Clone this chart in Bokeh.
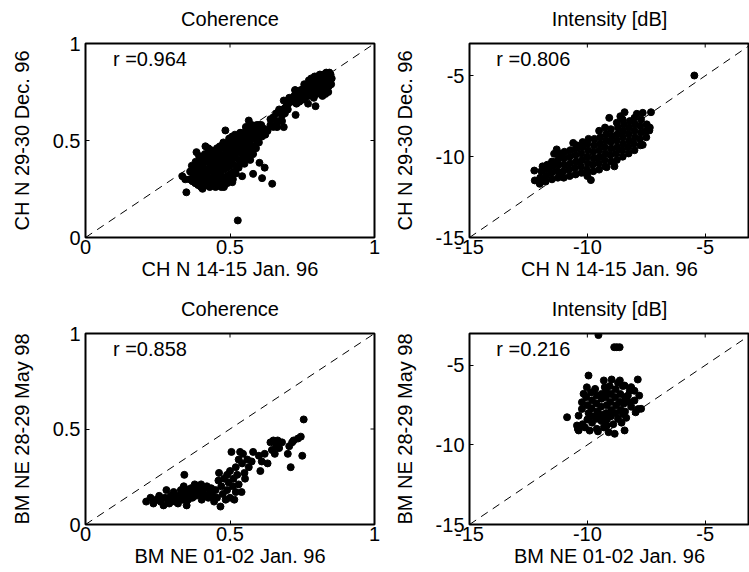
import math
from bokeh.plotting import figure
from bokeh.layouts import gridplot
from bokeh.models import Range1d, FixedTicker, LinearAxis, Label
from bokeh.embed import file_html
from bokeh.resources import INLINE

# ------------------------------------------------------------------ data
coh_limits = [0, 1]
int_limits = [-15, -3]
coh_ticks = [0, 0.5, 1]
coh_tick_labels = ["0", "0.5", "1"]
int_ticks = [-15, -10, -5]
int_tick_labels = ["-15", "-10", "-5"]
panel_titles = ["Coherence", "Intensity [dB]"]
ch_xlabel = "CH N 14-15 Jan. 96"
ch_ylabel = "CH N 29-30 Dec. 96"
bm_xlabel = "BM NE 01-02 Jan. 96"
bm_ylabel = "BM NE 28-29 May 98"
r_values = [0.964, 0.806, 0.858, 0.216]

# CH N coherence (x = 14-15 Jan 96, y = 29-30 Dec 96)
ch_coh = [
    (0.335, 0.316), (0.345, 0.30), (0.349, 0.233),
    (0.36, 0.30), (0.362, 0.34), (0.37, 0.29), (0.372, 0.33), (0.368, 0.37),
    (0.38, 0.28), (0.383, 0.31), (0.378, 0.35), (0.381, 0.39), (0.384, 0.44),
    (0.39, 0.27), (0.392, 0.30), (0.388, 0.34), (0.391, 0.38), (0.393, 0.42),
    (0.40, 0.26), (0.402, 0.29), (0.398, 0.33), (0.401, 0.37), (0.403, 0.41), (0.405, 0.251),
    (0.41, 0.28), (0.412, 0.32), (0.408, 0.36), (0.411, 0.40), (0.413, 0.43), (0.415, 0.47),
    (0.42, 0.27), (0.422, 0.31), (0.418, 0.35), (0.421, 0.39), (0.423, 0.42), (0.425, 0.46),
    (0.43, 0.26), (0.432, 0.30), (0.428, 0.34), (0.431, 0.38), (0.433, 0.41), (0.435, 0.45),
    (0.44, 0.27), (0.442, 0.31), (0.438, 0.35), (0.441, 0.39), (0.443, 0.43), (0.444, 0.268),
    (0.45, 0.26), (0.452, 0.30), (0.448, 0.34), (0.451, 0.38), (0.453, 0.42), (0.455, 0.46),
    (0.46, 0.27), (0.462, 0.31), (0.458, 0.35), (0.461, 0.39), (0.463, 0.43), (0.465, 0.47),
    (0.47, 0.26), (0.472, 0.30), (0.468, 0.34), (0.471, 0.38), (0.473, 0.42), (0.475, 0.46), (0.477, 0.49),
    (0.48, 0.27), (0.479, 0.26), (0.482, 0.31), (0.478, 0.35), (0.481, 0.39), (0.483, 0.43), (0.485, 0.47), (0.484, 0.552),
    (0.49, 0.28), (0.492, 0.32), (0.488, 0.36), (0.491, 0.40), (0.493, 0.44), (0.495, 0.48), (0.497, 0.51),
    (0.50, 0.29), (0.502, 0.33), (0.498, 0.37), (0.501, 0.41), (0.503, 0.45), (0.505, 0.49), (0.507, 0.52), (0.508, 0.285),
    (0.51, 0.30), (0.512, 0.34), (0.508, 0.38), (0.511, 0.42), (0.513, 0.46), (0.515, 0.50), (0.517, 0.53),
    (0.52, 0.33), (0.522, 0.37), (0.518, 0.41), (0.521, 0.45), (0.523, 0.49), (0.525, 0.52),
    (0.53, 0.36), (0.532, 0.40), (0.528, 0.44), (0.531, 0.48), (0.533, 0.51), (0.535, 0.54), (0.527, 0.088),
    (0.542, 0.316), (0.54, 0.39), (0.542, 0.43), (0.538, 0.47), (0.541, 0.50), (0.543, 0.54),
    (0.55, 0.38), (0.552, 0.42), (0.548, 0.46), (0.551, 0.50), (0.553, 0.53), (0.555, 0.57),
    (0.56, 0.41), (0.562, 0.45), (0.558, 0.49), (0.561, 0.52), (0.563, 0.56), (0.565, 0.603),
    (0.57, 0.40), (0.572, 0.44), (0.568, 0.48), (0.571, 0.52), (0.573, 0.55), (0.575, 0.58),
    (0.580, 0.328), (0.58, 0.43), (0.582, 0.47), (0.578, 0.51), (0.581, 0.54), (0.583, 0.57),
    (0.59, 0.46), (0.592, 0.50), (0.588, 0.53), (0.591, 0.56), (0.593, 0.58),
    (0.602, 0.385), (0.60, 0.49), (0.602, 0.52), (0.598, 0.55), (0.601, 0.58),
    (0.611, 0.306), (0.61, 0.52), (0.612, 0.55), (0.608, 0.58),
    (0.62, 0.36), (0.622, 0.53), (0.618, 0.56),
    (0.63, 0.55), (0.64, 0.58), (0.646, 0.277), (0.65, 0.57), (0.663, 0.569), (0.686, 0.569),
    (0.67, 0.60), (0.64, 0.61), (0.65, 0.62), (0.66, 0.64), (0.67, 0.66), (0.66, 0.60), (0.68, 0.60),
    (0.68, 0.63), (0.682, 0.66), (0.686, 0.706), (0.69, 0.64), (0.692, 0.67),
    (0.70, 0.66), (0.702, 0.69), (0.705, 0.72),
    (0.72, 0.70), (0.727, 0.632), (0.722, 0.73), (0.725, 0.76), (0.727, 0.758),
    (0.73, 0.69), (0.732, 0.72), (0.735, 0.75),
    (0.74, 0.70), (0.742, 0.73), (0.745, 0.76),
    (0.75, 0.71), (0.752, 0.74), (0.755, 0.77), (0.757, 0.79),
    (0.76, 0.72), (0.762, 0.75), (0.765, 0.78),
    (0.77, 0.69), (0.772, 0.73), (0.768, 0.76), (0.771, 0.79), (0.773, 0.81),
    (0.78, 0.74), (0.782, 0.77), (0.778, 0.80), (0.781, 0.82),
    (0.79, 0.72), (0.792, 0.75), (0.788, 0.78), (0.791, 0.81), (0.793, 0.83),
    (0.796, 0.677), (0.80, 0.74), (0.802, 0.77), (0.798, 0.80), (0.801, 0.83),
    (0.81, 0.75), (0.812, 0.78), (0.808, 0.81), (0.811, 0.84),
    (0.82, 0.73), (0.822, 0.76), (0.818, 0.79), (0.821, 0.82), (0.823, 0.84),
    (0.83, 0.74), (0.832, 0.77), (0.828, 0.80), (0.831, 0.83), (0.833, 0.85),
    (0.84, 0.75), (0.842, 0.78), (0.838, 0.81), (0.841, 0.84), (0.844, 0.85),
    (0.85, 0.79), (0.852, 0.82), (0.848, 0.84),
]

# CH N intensity [dB]
ch_int = [
    (-12.25, -10.86), (-12.23, -11.47), (-12.02, -11.68), (-12.0, -11.3), (-11.95, -10.9), (-11.9, -10.6),
    (-11.77, -11.54), (-11.75, -11.2), (-11.72, -10.8), (-11.7, -10.5),
    (-11.5, -11.4), (-11.52, -11.0), (-11.48, -10.6), (-11.5, -10.3), (-11.41, -9.82),
    (-11.25, -11.3), (-11.27, -10.9), (-11.23, -10.5), (-11.25, -10.2), (-11.2, -9.8),
    (-11.14, -11.17), (-11.0, -11.3), (-11.02, -10.9), (-10.98, -10.5), (-11.0, -10.1), (-10.97, -9.7),
    (-10.75, -11.2), (-10.77, -10.8), (-10.73, -10.4), (-10.75, -10.0), (-10.72, -9.6),
    (-10.5, -11.1), (-10.52, -10.7), (-10.48, -10.3), (-10.5, -9.9), (-10.47, -9.5), (-10.45, -9.3),
    (-10.25, -11.0), (-10.27, -10.6), (-10.23, -10.2), (-10.25, -9.8), (-10.22, -9.4), (-10.2, -9.1),
    (-10.02, -10.96), (-10.0, -11.2), (-10.02, -10.8), (-9.98, -10.4), (-10.0, -10.0), (-9.97, -9.6), (-10.0, -9.2), (-9.95, -8.9),
    (-9.75, -10.9), (-9.77, -10.5), (-9.73, -10.1), (-9.75, -9.7), (-9.72, -9.3), (-9.7, -8.9),
    (-9.5, -10.8), (-9.52, -10.4), (-9.48, -10.0), (-9.5, -9.6), (-9.47, -9.2), (-9.45, -8.8), (-9.5, -8.4),
    (-9.25, -10.6), (-9.27, -10.2), (-9.23, -9.8), (-9.25, -9.4), (-9.22, -9.0), (-9.2, -8.6), (-9.25, -8.2),
    (-9.18, -10.65), (-9.0, -10.3), (-9.02, -9.9), (-8.98, -9.5), (-9.0, -9.1), (-8.97, -8.7), (-9.0, -8.3), (-9.07, -7.6),
    (-8.75, -10.2), (-8.77, -9.8), (-8.73, -9.4), (-8.75, -9.0), (-8.72, -8.6), (-8.7, -8.2), (-8.75, -7.9),
    (-8.5, -10.0), (-8.52, -9.6), (-8.48, -9.2), (-8.5, -8.8), (-8.47, -8.4), (-8.45, -8.0), (-8.5, -7.7),
    (-8.42, -7.25), (-8.25, -9.8), (-8.27, -9.4), (-8.23, -9.0), (-8.25, -8.6), (-8.22, -8.2), (-8.2, -7.8),
    (-8.0, -9.6), (-8.02, -9.2), (-7.98, -8.8), (-8.0, -8.4), (-7.97, -8.0), (-8.0, -7.6),
    (-7.75, -9.3), (-7.77, -8.9), (-7.73, -8.5), (-7.75, -8.1), (-7.72, -7.7), (-7.65, -7.29),
    (-7.5, -8.8), (-7.52, -8.4), (-7.48, -8.0), (-7.37, -8.38), (-7.35, -8.2), (-7.3, -7.25), (-7.65, -9.27),
    (-11.3, -9.55), (-10.6, -9.15), (-9.85, -11.45), (-8.85, -10.6), (-8.6, -7.5), (-7.9, -7.35),
    (-5.46, -4.98),
]

# BM NE coherence (x = 01-02 Jan 96, y = 28-29 May 98)
bm_coh = [
    (0.21, 0.12), (0.225, 0.14), (0.235, 0.11), (0.245, 0.13), (0.255, 0.15), (0.26, 0.12),
    (0.27, 0.10), (0.275, 0.14), (0.28, 0.18), (0.285, 0.13), (0.29, 0.11), (0.295, 0.15),
    (0.30, 0.13), (0.305, 0.17), (0.31, 0.12), (0.315, 0.15), (0.32, 0.11), (0.325, 0.14),
    (0.33, 0.18), (0.332, 0.16), (0.335, 0.13), (0.34, 0.20), (0.342, 0.26), (0.345, 0.15),
    (0.35, 0.10), (0.352, 0.18), (0.355, 0.13), (0.36, 0.16), (0.365, 0.19), (0.37, 0.14),
    (0.372, 0.17), (0.378, 0.21), (0.38, 0.15), (0.385, 0.18), (0.39, 0.20), (0.393, 0.16),
    (0.40, 0.21), (0.402, 0.13), (0.405, 0.17), (0.41, 0.19), (0.415, 0.15), (0.42, 0.20),
    (0.425, 0.14), (0.43, 0.17), (0.435, 0.19), (0.44, 0.15), (0.445, 0.12), (0.45, 0.18),
    (0.455, 0.14), (0.46, 0.23), (0.462, 0.27), (0.467, 0.094), (0.47, 0.20), (0.475, 0.16),
    (0.48, 0.24), (0.485, 0.13), (0.49, 0.26), (0.49, 0.18), (0.495, 0.22), (0.50, 0.14),
    (0.50, 0.28), (0.505, 0.38), (0.51, 0.20), (0.512, 0.24), (0.515, 0.13), (0.52, 0.17),
    (0.52, 0.30), (0.525, 0.26), (0.53, 0.21), (0.53, 0.34), (0.535, 0.38), (0.54, 0.17),
    (0.542, 0.32), (0.545, 0.37), (0.55, 0.27), (0.552, 0.24), (0.56, 0.34), (0.565, 0.30),
    (0.575, 0.33), (0.58, 0.38), (0.60, 0.36), (0.605, 0.28), (0.61, 0.33), (0.62, 0.37),
    (0.63, 0.32), (0.64, 0.43), (0.645, 0.39), (0.65, 0.44), (0.655, 0.37), (0.66, 0.41),
    (0.665, 0.44), (0.67, 0.40), (0.68, 0.43), (0.70, 0.37), (0.705, 0.41), (0.71, 0.30),
    (0.715, 0.43), (0.72, 0.44), (0.735, 0.45), (0.745, 0.46), (0.75, 0.36), (0.755, 0.55),
]

# BM NE intensity [dB]
bm_int = [
    (-9.53, -3.1), (-8.86, -3.86), (-8.75, -3.86), (-8.63, -3.86),
    (-9.95, -5.64), (-7.86, -5.89), (-8.97, -5.89), (-8.62, -5.95), (-8.42, -6.27), (-8.14, -6.37),
    (-9.26, -6.37), (-9.67, -6.48), (-10.02, -6.38), (-10.16, -6.79), (-9.4, -6.8), (-8.28, -6.9),
    (-8.0, -7.21), (-7.72, -7.73), (-7.85, -7.75), (-8.14, -7.6), (-8.45, -7.4), (-10.23, -7.32),
    (-10.23, -7.74), (-10.37, -8.16), (-10.86, -8.26), (-10.44, -8.78), (-10.37, -9.09), (-10.2, -8.7),
    (-9.6, -8.99), (-9.55, -9.15), (-9.18, -8.78), (-8.84, -9.3), (-8.42, -9.09), (-8.70, -8.36),
    (-8.5, -8.05), (-9.6, -8.36),
    (-10.05, -7.0), (-10.0, -7.5), (-9.95, -8.0), (-10.0, -8.4), (-9.85, -6.7), (-9.8, -7.2),
    (-9.82, -7.7), (-9.78, -8.2), (-9.8, -8.6), (-9.6, -6.9), (-9.62, -7.4), (-9.58, -7.9),
    (-9.6, -8.3), (-9.4, -7.1), (-9.42, -7.6), (-9.38, -8.1), (-9.4, -8.5), (-9.2, -6.6),
    (-9.22, -7.0), (-9.18, -7.5), (-9.2, -8.0), (-9.17, -8.4), (-9.0, -6.8), (-9.02, -7.3),
    (-8.98, -7.8), (-9.0, -8.2), (-8.8, -6.5), (-8.82, -7.0), (-8.78, -7.5), (-8.8, -8.0),
    (-8.6, -6.8), (-8.62, -7.3), (-8.58, -7.8), (-8.4, -7.0), (-8.4, -7.9), (-8.2, -6.6),
    (-8.25, -7.3), (-8.5, -6.3), (-8.7, -6.1), (-9.05, -6.3), (-9.3, -5.95),
    (-10.4, -9.0), (-10.1, -8.9), (-9.9, -9.1), (-9.3, -8.9), (-9.1, -9.2), (-8.55, -8.6),
    (-8.9, -8.7), (-8.35, -8.3), (-7.95, -7.95), (-8.0, -6.6), (-7.8, -6.9),
]

# ------------------------------------------------------------------ styling
FONT = "Liberation Sans"
FS = "20px"


def make_panel(pts, r, title, xlabel, ylabel, limits, ticks, tick_labels,
               width, height, borders, x_end, mirror_right):
    xs = [p[0] for p in pts]
    ys = [p[1] for p in pts]
    p = figure(width=width, height=height, output_backend="svg",
               toolbar_location=None, tools="",
               x_range=Range1d(limits[0], x_end),
               y_range=Range1d(limits[0], limits[1]),
               min_border_left=borders[0], min_border_right=borders[1],
               min_border_top=borders[2], min_border_bottom=borders[3])
    p.xgrid.grid_line_color = None
    p.ygrid.grid_line_color = None
    p.outline_line_color = "black"
    p.outline_line_width = 2
    p.background_fill_color = "white"
    p.border_fill_color = "white"

    # title carried by an (otherwise empty) top axis
    top = LinearAxis(axis_label=title, ticker=FixedTicker(ticks=[]))
    top.axis_line_color = None
    top.major_tick_line_color = None
    top.minor_tick_line_color = None
    top.major_label_standoff = 0
    top.axis_label_standoff = 14
    top.axis_label_text_font = FONT
    top.axis_label_text_font_size = FS
    top.axis_label_text_font_style = "normal"
    top.axis_label_text_color = "black"
    p.add_layout(top, "above")

    overrides = {t: l for t, l in zip(ticks, tick_labels)}
    bottom = p.below[0]
    left = p.left[0]
    for ax in (bottom, left):
        ax.ticker = FixedTicker(ticks=ticks)
        ax.major_label_overrides = overrides
        ax.major_tick_in = 4
        ax.major_tick_out = 0
        ax.major_tick_line_color = "black"
        ax.major_tick_line_width = 1
        ax.minor_tick_line_color = None
        ax.axis_line_color = None
        ax.major_label_text_font = FONT
        ax.major_label_text_font_size = FS
        ax.major_label_text_color = "black"
        ax.axis_label_text_font = FONT
        ax.axis_label_text_font_size = FS
        ax.axis_label_text_font_style = "normal"
        ax.axis_label_text_color = "black"
    bottom.axis_label = xlabel
    bottom.major_label_standoff = 2
    bottom.axis_label_standoff = 1
    left.axis_label = ylabel
    left.major_label_standoff = 5
    left.axis_label_standoff = 17

    # mirrored inward tick marks on top (and right) frame edges
    p.scatter(ticks, [limits[1]] * len(ticks), marker="dash", angle=math.pi / 2,
              size=8, line_color="black", line_width=1)
    if mirror_right:
        p.scatter([x_end] * len(ticks), ticks, marker="dash", angle=0,
                  size=8, line_color="black", line_width=1)

    p.line([limits[0], limits[1]], [limits[0], limits[1]],
           line_color="black", line_width=1, line_dash="8 6")
    p.scatter(xs, ys, size=7, marker="circle",
              fill_color="black", line_color="black")

    span = limits[1] - limits[0]
    p.add_layout(Label(x=limits[0] + 0.095 * span, y=limits[0] + 0.92 * span,
                       text="r =%.3f" % r, text_font=FONT, text_font_size=FS,
                       text_baseline="middle", text_color="black"))
    return p


LW, RW = 390, 359
TOP_B = (43, 49)
BOT_B = (47, 48)
H = 286

p1 = make_panel(ch_coh, r_values[0], panel_titles[0], ch_xlabel, ch_ylabel,
                coh_limits, coh_ticks, coh_tick_labels,
                LW, H, (85, 16) + TOP_B, coh_limits[1], True)
p2 = make_panel(ch_int, r_values[1], panel_titles[1], ch_xlabel, ch_ylabel,
                int_limits, int_ticks, int_tick_labels,
                RW, H, (75, 0) + TOP_B, -3.12, False)
p3 = make_panel(bm_coh, r_values[2], panel_titles[0], bm_xlabel, bm_ylabel,
                coh_limits, coh_ticks, coh_tick_labels,
                LW, H, (85, 16) + BOT_B, coh_limits[1], True)
p4 = make_panel(bm_int, r_values[3], panel_titles[1], bm_xlabel, bm_ylabel,
                int_limits, int_ticks, int_tick_labels,
                RW, H, (75, 0) + BOT_B, -3.12, False)

grid = gridplot([[p1, p2], [p3, p4]], toolbar_location=None)

open("out.html", "w").write(file_html(grid, INLINE))
